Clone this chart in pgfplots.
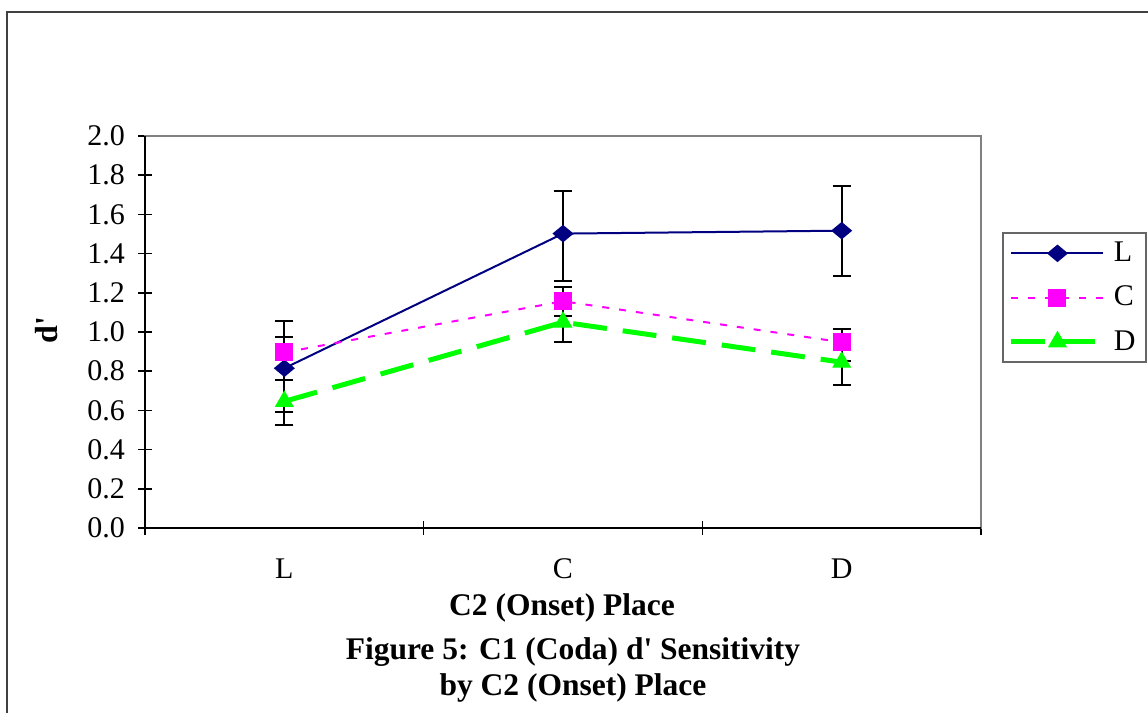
\documentclass[border=0pt]{standalone}
\usepackage{fontspec}
\setmainfont{Liberation Serif}
\usepackage{pgfplots}
\pgfplotsset{compat=1.18}
\definecolor{navyL}{HTML}{000080}
\definecolor{magC}{HTML}{FF00FF}
\definecolor{greenD}{HTML}{00FF00}
\begin{document}
\begin{tikzpicture}
\useasboundingbox (0,0) rectangle (574bp,-356.5bp);
\draw[line width=1bp, color=black!75] (3.5bp,-360bp) -- (3.5bp,-6bp) -- (580bp,-6bp);
\begin{axis}[
  at={(72.5bp,-264bp)}, anchor=south west,
  scale only axis, width=418bp, height=196bp,
  xmin=-0.5, xmax=2.5, ymin=0, ymax=2,
  axis line style={draw=gray, line width=1bp},
  xtick pos=bottom, ytick pos=left,
  xtick={-0.5,0.5,1.5,2.5}, xticklabels={},
  extra x ticks={0,1,2}, extra x tick labels={L,C,D},
  extra x tick style={major tick length=0pt, xticklabel style={yshift=-12bp}},
  ytick={0,0.2,0.4,0.6,0.8,1.0,1.2,1.4,1.6,1.8,2.0},
  yticklabel style={/pgf/number format/fixed, /pgf/number format/fixed zerofill, /pgf/number format/precision=1, xshift=-3bp},
  /pgf/number format/assume math mode=true,
  tick align=center, major tick length=7bp,
  tick style={black, line width=0.75bp},
  ticklabel style={font=\fontsize{15bp}{18bp}\selectfont},
  legend style={at={(1.0251,0.755)}, anchor=north west, draw=gray!80!black, line width=1bp,
    font=\fontsize{15bp}{18bp}\selectfont, inner xsep=3bp, inner ysep=2.5bp,
    row sep=6.75bp, column sep=2bp, cells={anchor=west}},
  legend image code/.code={\draw[mark repeat=2,mark phase=2,#1] plot coordinates {(0bp,0bp)(23bp,0bp)(46bp,0bp)};},
  clip=false,
]
\draw[black, line width=1bp] (rel axis cs:0,1) -- (rel axis cs:0,0) -- (rel axis cs:1,0);
\addplot[navyL, line width=1bp, mark=diamond*, mark size=3.75bp,
  mark options={solid, fill=navyL, xscale=1.6},
  error bars/.cd, y dir=both, y explicit,
  error bar style={black, line width=1bp, solid},
  error mark options={rotate=90, mark size=4.5bp, black, line width=1bp, solid}]
  coordinates {
  (0,0.815) += (0,0.240) -= (0,0.223)
  (1,1.502) += (0,0.215) -= (0,0.243)
  (2,1.517) += (0,0.229) -= (0,0.231)
};
\addlegendentry{L}
\addplot[magC, line width=1bp, dash pattern=on 3.5bp off 5bp, mark=square*, mark size=4bp,
  mark options={solid, fill=magC},
  error bars/.cd, y dir=both, y explicit,
  error bar style={black, line width=1bp, solid},
  error mark options={rotate=90, mark size=4.5bp, black, line width=1bp, solid}]
  coordinates {
  (0,0.896) += (0,0.078) -= (0,0.078)
  (1,1.157) += (0,0.075) -= (0,0.077)
  (2,0.948) += (0,0.068) -= (0,0.097)
};
\addlegendentry{C}
\addplot[greenD, line width=2.5bp, dash pattern=on 17bp off 8bp, mark=triangle*, mark size=5bp,
  mark options={solid, fill=greenD, line width=0.5bp},
  error bars/.cd, y dir=both, y explicit,
  error bar style={black, line width=1bp, solid},
  error mark options={rotate=90, mark size=4.5bp, black, line width=1bp, solid}]
  coordinates {
  (0,0.646) += (0,0.107) -= (0,0.122)
  (1,1.050) += (0,0.127) -= (0,0.102)
  (2,0.846) += (0,0.128) -= (0,0.115)
};
\addlegendentry{D}
\end{axis}
\node[font=\bfseries\fontsize{16bp}{19bp}\selectfont, rotate=90] at (23.5bp,-165bp) {d\textquotesingle};
\node[font=\bfseries\fontsize{15.75bp}{19bp}\selectfont] at (281bp,-304bp) {C2 (Onset) Place};
\node[font=\bfseries\fontsize{15.75bp}{19bp}\selectfont] at (286.5bp,-326bp) {Figure 5: C1 (Coda) d\textquotesingle{} Sensitivity};
\node[font=\bfseries\fontsize{15.75bp}{19bp}\selectfont] at (286.5bp,-344bp) {by C2 (Onset) Place};
\end{tikzpicture}
\end{document}
